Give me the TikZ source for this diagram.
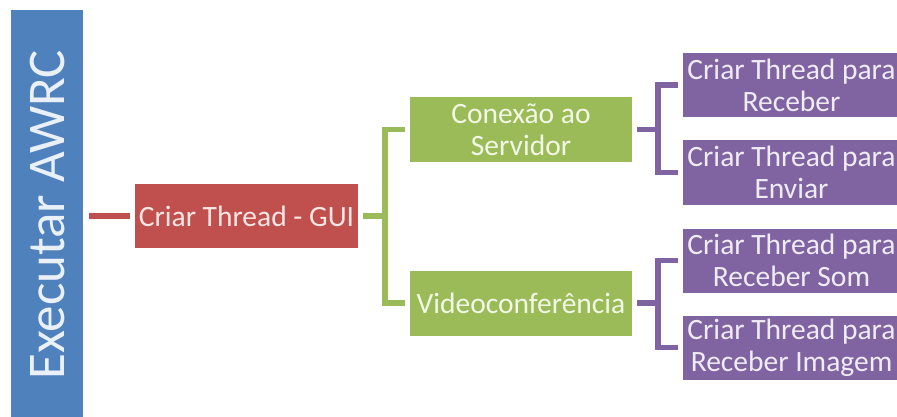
\documentclass[tikz,border=0pt]{standalone}
\usepackage{fontspec}
\setmainfont{Carlito}
\definecolor{cblue}{HTML}{4F81BD}
\definecolor{cred}{HTML}{C0504D}
\definecolor{cgreen}{HTML}{9BBB59}
\definecolor{cpurple}{HTML}{8064A2}
\definecolor{tred}{HTML}{F8E6E5}
\definecolor{tgreen}{HTML}{F2F7E6}
\definecolor{tpurple}{HTML}{F0ECF5}
\definecolor{tblue}{HTML}{EAF0F8}
\begin{document}
\begin{tikzpicture}[x=1pt,y=-1pt,
  box/.style={rectangle, inner sep=0pt, align=center,
    font=\fontsize{29.5}{32}\selectfont},
  rootbox/.style={rectangle, inner sep=0pt, fill=cblue, text=tblue,
    font=\fontsize{53}{56}\selectfont},
  redbox/.style={box, fill=cred, text=tred, minimum width=223pt, minimum height=64pt},
  greenbox/.style={box, fill=cgreen, text=tgreen, minimum width=222pt, minimum height=65pt},
  purplebox/.style={box, fill=cpurple, text=tpurple, minimum width=217pt, minimum height=64pt},
  conn/.style={line width=5.5pt, line join=miter},
  redline/.style={conn, draw=cred},
  greenline/.style={conn, draw=cgreen},
  purpleline/.style={conn, draw=cpurple}
]
\useasboundingbox (0,0) rectangle (897,417);
\clip (0,0) rectangle (897,417);
\fill[white] (0,0) rectangle (897,417);

\node[rootbox, minimum width=410pt, minimum height=72pt, rotate=90] (root) at (47,215) {Executar AWRC};

\node[redbox] (gui) at (246.5,216) {Criar Thread - GUI};

\node[greenbox] (con) at (521,129.5) {Conexão ao\\Servidor};
\node[greenbox] (vid) at (521,303) {Videoconferência};

\node[purplebox] (p1) at (791.5,85) {Criar Thread para\\Receber};
\node[purplebox] (p2) at (791.5,172.5) {Criar Thread para\\Enviar};
\node[purplebox] (p3) at (791.5,260.5) {Criar Thread para\\Receber Som};
\node[purplebox] (p4) at (791.5,347.5) {Criar Thread para\\Receber Imagem};

\coordinate (rs) at (89,216);
\draw[redline, shorten >=5pt] (rs) -- (gui.west);

\coordinate (gj) at (385,216);
\draw[greenline, shorten <=5pt] (gui.east) -- (gj);
\draw[greenline, shorten <=5pt, shorten >=5pt] (con.west) -| (gj |- vid.west) -- (vid.west);

\coordinate (cj) at (658,129.5);
\draw[purpleline, shorten <=5pt] (con.east) -- (cj);
\draw[purpleline, shorten <=5pt, shorten >=5pt] (p1.west) -| (cj |- p2.west) -- (p2.west);

\coordinate (vj) at (658,303);
\draw[purpleline, shorten <=5pt] (vid.east) -- (vj);
\draw[purpleline, shorten <=5pt, shorten >=5pt] (p3.west) -| (vj |- p4.west) -- (p4.west);
\end{tikzpicture}
\end{document}
